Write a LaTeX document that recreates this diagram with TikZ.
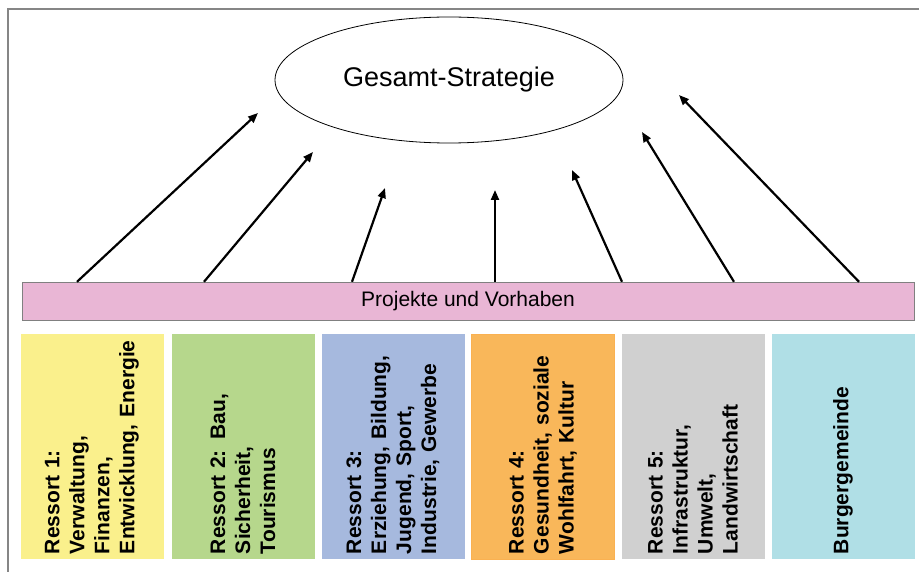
\documentclass[tikz,border=0pt]{standalone}
\usepackage{fontspec}
\setmainfont{Liberation Sans}
\usepackage{tikz}
\usetikzlibrary{arrows.meta,shapes.geometric}
\definecolor{projrosa}{HTML}{E9B6D5}
\definecolor{ressgelb}{HTML}{FAF08C}
\definecolor{ressgruen}{HTML}{B6D78C}
\definecolor{ressblau}{HTML}{A6B9DE}
\definecolor{ressorange}{HTML}{F9B75A}
\definecolor{ressgrau}{HTML}{D0D0D0}
\definecolor{resscyan}{HTML}{B0DFE6}
\newcommand{\keintrenn}{\hyphenpenalty=10000\relax}
\tikzset{
  pfeil/.style   = {-{Triangle[length=10pt,width=8pt]},line width=2.2pt},
  ressort/.style = {rotate=90,minimum width=225pt,minimum height=143pt,
                    text width=215pt,align=left,inner sep=0pt,
                    font=\bfseries\fontsize{21}{25}\selectfont\keintrenn},
  rahmen/.style  = {gray!95,line width=2pt}
}

\begin{document}
\begin{tikzpicture}[x=1pt,y=-1pt]
  \useasboundingbox (0,0) rectangle (919,572);
  \draw[rahmen] (8,572) -- (8,9) -- (919,9);
  \node[draw,ellipse,line width=0.8pt,minimum width=348pt,minimum height=126pt,
        font=\fontsize{27}{32}\selectfont] (strategie) at (449,80) {Gesamt-Strategie};
  \node[draw=gray,fill=projrosa,minimum width=892pt,minimum height=38pt,inner sep=0pt,
        font=\fontsize{21}{24}\selectfont] (vorhaben) at (468,301) {Projekte und Vorhaben};
  \node[ressort,fill=ressgelb]   (r1) at (92,446.5)  {Ressort 1:\\Verwaltung,\\Finanzen,\\Entwicklung, Energie};
  \node[ressort,fill=ressgruen]  (r2) at (243,446.5) {Ressort 2: Bau,\\Sicherheit,\\Tourismus};
  \node[ressort,fill=ressblau]   (r3) at (393,446.5) {Ressort 3:\\Erziehung, Bildung,\\Jugend, Sport,\\Industrie, Gewerbe};
  \node[ressort,fill=ressorange,draw=ressorange!90!orange] (r4) at (543,446.5) {Ressort 4:\\Gesundheit, soziale\\Wohlfahrt, Kultur};
  \node[ressort,fill=ressgrau]   (r5) at (693,446.5) {Ressort 5:\\Infrastruktur,\\Umwelt,\\Landwirtschaft};
  \node[ressort,fill=resscyan]   (r6) at (843,446.5) {Burgergemeinde};
  \foreach \sx/\tx/\ty [count=\i] in {77/258/113, 204/313/152, 352/385/188, 495/495/190,
                                      622/572/170, 734/642/132, 859/679/95}{
    \coordinate (fuss\i) at (\sx,0);
    \coordinate (ziel\i) at (\tx,\ty);
    \draw[pfeil] (fuss\i |- vorhaben.north) -- (ziel\i);
  }
\end{tikzpicture}
\end{document}
